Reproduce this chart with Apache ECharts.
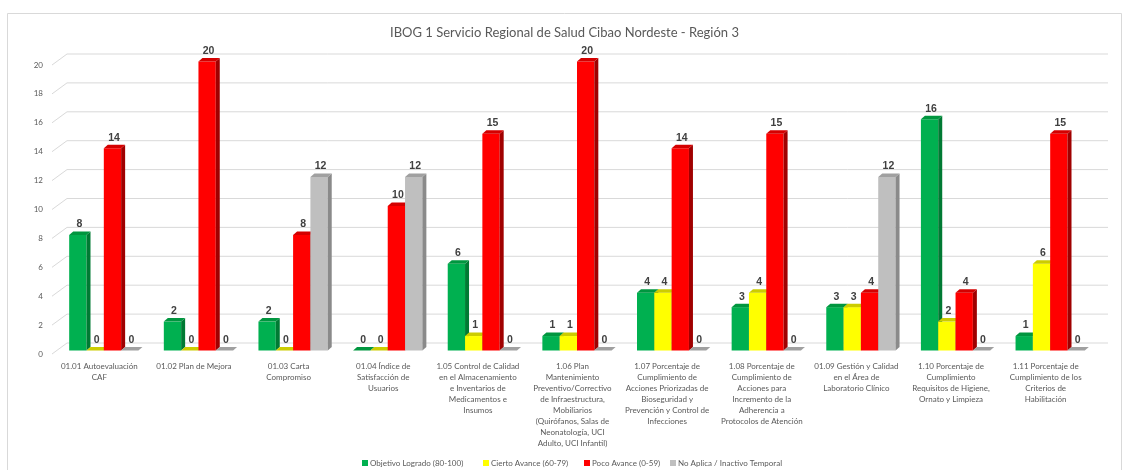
<!DOCTYPE html>
<html><head><meta charset="utf-8">
<script src="https://cdn.jsdelivr.net/npm/echarts@6/dist/echarts.min.js"></script>
<style>html,body{margin:0;padding:0;background:#fff}#c{width:1129px;height:470px}</style>
</head><body><div id="c"></div>
<script>
const categories = [
  "01.01 Autoevaluación\nCAF",
  "01.02 Plan de Mejora",
  "01.03 Carta\nCompromiso",
  "01.04 Índice de\nSatisfacción de\nUsuarios",
  "1.05 Control de Calidad\nen el Almacenamiento\ne Inventarios de\nMedicamentos e\nInsumos",
  "1.06 Plan\nMantenimiento\nPreventivo/Correctivo\nde Infraestructura,\nMobiliarios\n(Quirófanos, Salas de\nNeonatología, UCI\nAdulto, UCI Infantil)",
  "1.07 Porcentaje de\nCumplimiento de\nAcciones Priorizadas de\nBioseguridad y\nPrevención y Control de\nInfecciones",
  "1.08 Porcentaje de\nCumplimiento de\nAcciones para\nIncremento de la\nAdherencia a\nProtocolos de Atención",
  "01.09 Gestión y Calidad\nen el Área de\nLaboratorio Clínico",
  "1.10 Porcentaje de\nCumplimiento\nRequisitos de Higiene,\nOrnato y Limpieza",
  "1.11 Porcentaje de\nCumplimiento de los\nCriterios de\nHabilitación"
];
const objetivoLogrado = [8, 2, 2, 0, 6, 1, 4, 3, 3, 16, 1];
const ciertoAvance    = [0, 0, 0, 0, 1, 1, 4, 4, 3, 2, 6];
const pocoAvance      = [14, 20, 8, 10, 15, 20, 14, 15, 4, 4, 15];
const noAplica        = [0, 0, 12, 12, 0, 0, 0, 0, 12, 0, 0];
const yTicks = [0, 2, 4, 6, 8, 10, 12, 14, 16, 18, 20];
const seriesNames = [
  "Objetivo Logrado (80-100)",
  "Cierto Avance (60-79)",
  "Poco Avance (0-59)",
  "No Aplica / Inactivo Temporal"
];
const seriesValues = [objetivoLogrado, ciertoAvance, pocoAvance, noAplica];
const palette = [
  {front: '#00b050', top: '#00963f', side: '#007a33'},
  {front: '#ffff00', top: '#cccc00', side: '#a8a800'},
  {front: '#ff0000', top: '#d40000', side: '#a00000'},
  {front: '#bfbfbf', top: '#a0a0a0', side: '#8a8a8a'}
];
const FONT = 'Lato';
const DEPTH_X = 15, DEPTH_Y = -11;
const legendLefts = [362, 483, 584, 670];

function barRenderer(idx) {
  const c = palette[idx];
  return function (params, api) {
    const ci = api.value(0), v = api.value(1);
    const band = api.size([1, 0])[0];
    const bw = band * 0.183;
    const base = api.coord([ci, 0]);
    const tp = api.coord([ci, v]);
    const ox = 4.5, oy = -3.5, dx = 4, dy = -3.5;
    const gx = base[0] + ox - 2 * bw + idx * bw;
    const y0 = base[1] + oy, y1 = tp[1] + oy;
    const ch = [];
    if (v > 0) {
      ch.push({type: 'rect', shape: {x: gx, y: y1, width: bw, height: y0 - y1}, style: {fill: c.front}});
      ch.push({type: 'polygon', shape: {points: [[gx + bw, y1], [gx + bw + dx, y1 + dy], [gx + bw + dx, y0 + dy], [gx + bw, y0]]}, style: {fill: c.side}});
    }
    ch.push({type: 'polygon', shape: {points: [[gx, y1], [gx + dx, y1 + dy], [gx + bw + dx, y1 + dy], [gx + bw, y1]]}, style: {fill: c.top}});
    ch.push({type: 'text', style: {text: String(v), x: gx + bw / 2 + 1.5, y: y1 + dy - 7, align: 'center', verticalAlign: 'middle',
      fill: '#404040', font: 'bold 10.5px "Liberation Sans", Arial, sans-serif'}});
    return {type: 'group', children: ch};
  };
}

const chart = echarts.init(document.getElementById('c'), null, {renderer: 'canvas'});
const series = [{
  type: 'custom', name: 'grid', silent: true, z: 1, clip: false,
  data: yTicks.map(t => [0, t]),
  renderItem: function (params, api) {
    const cs = params.coordSys;
    const y = api.coord([0, api.value(1)])[1];
    return {type: 'group', children: [
      {type: 'line', shape: {x1: cs.x, y1: y, x2: cs.x + DEPTH_X, y2: y + DEPTH_Y}, style: {stroke: '#d9d9d9', lineWidth: 1}},
      {type: 'line', shape: {x1: cs.x + DEPTH_X, y1: y + DEPTH_Y, x2: cs.x + cs.width + DEPTH_X, y2: y + DEPTH_Y}, style: {stroke: '#d9d9d9', lineWidth: 1}}
    ]};
  }
}];
seriesNames.forEach((n, i) => {
  series.push({
    type: 'custom', name: n, z: 5 + i, clip: false,
    itemStyle: {color: palette[i].front},
    data: seriesValues[i].map((v, k) => [k, v]),
    renderItem: barRenderer(i)
  });
});

chart.setOption({
  animation: false,
  backgroundColor: '#ffffff',
  title: {text: 'IBOG 1 Servicio Regional de Salud Cibao Nordeste - Región 3', left: 'center', top: 21,
    textStyle: {fontFamily: FONT, fontSize: 13, fontWeight: 'normal', color: '#595959'}},
  graphic: [{type: 'rect', shape: {x: 7.5, y: 13.5, width: 1114, height: 470}, style: {fill: 'none', stroke: '#d9d9d9', lineWidth: 1}, z: 0}],
  legend: seriesNames.map((n, i) => ({
    data: [n], top: 459, left: legendLefts[i], icon: 'rect', itemWidth: 6, itemHeight: 6, padding: 0,
    textStyle: {fontFamily: FONT, fontSize: 8, color: '#595959', padding: [0, 0, 0, -3]}
  })),
  grid: {left: 52, right: 36, top: 65, bottom: 116, containLabel: false},
  xAxis: {
    type: 'category', data: categories,
    axisLine: {show: false}, axisTick: {show: false}, splitLine: {show: false},
    axisLabel: {interval: 0, margin: 7, fontFamily: FONT, fontSize: 8, lineHeight: 11, color: '#595959'}
  },
  yAxis: {
    type: 'value', min: 0, max: 20, interval: 2,
    axisLine: {show: false}, axisTick: {show: false}, splitLine: {show: false},
    axisLabel: {margin: 9, fontFamily: FONT, fontSize: 8, color: '#595959'}
  },
  series: series
});
</script>
</body></html>
